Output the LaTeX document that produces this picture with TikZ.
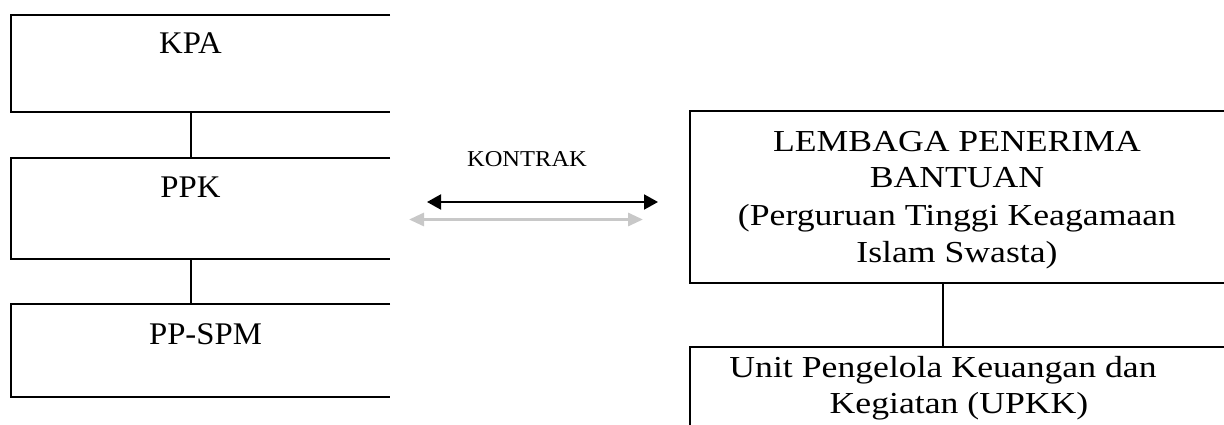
\documentclass[tikz,border=0pt]{standalone}
\usepackage{fontspec}
\setmainfont{Liberation Serif}
\newfontfamily\leftfont[FakeStretch=1.04]{Liberation Serif}
\newfontfamily\rightfont[FakeStretch=1.17]{Liberation Serif}
\newfontfamily\kfont[FakeStretch=1.08]{Liberation Serif}
\usetikzlibrary{arrows.meta}
\definecolor{arrgray}{RGB}{200,200,200}
\tikzset{
  boxarea/.style={draw=none,rectangle,inner sep=0pt,minimum width=#1},
  edge/.style={line width=2.2pt,line cap=butt},
  ltext/.style={anchor=base,inner sep=0pt,font=\leftfont\fontsize{31.5}{37}\selectfont},
  rtext/.style={anchor=base,inner sep=0pt,font=\rightfont\fontsize{30.5}{36}\selectfont},
  ktext/.style={anchor=base,inner sep=0pt,font=\kfont\fontsize{22.7}{27}\selectfont},
}
\begin{document}
\begin{tikzpicture}[x=1pt,y=-1pt]
\useasboundingbox (0,0) rectangle (1224,425);
\clip (0,0) rectangle (1224,425);
% left boxes
\node[boxarea=379pt,minimum height=97pt] (kpa) at (200.5,63.5) {};
\node[boxarea=379pt,minimum height=101pt] (ppk) at (200.5,208.5) {};
\node[boxarea=379pt,minimum height=93pt] (ppspm) at (200.5,350.5) {};
\foreach \b in {kpa,ppk,ppspm}
  \draw[edge] (\b.north east) -- (\b.north west) -- (\b.south west) -- (\b.south east);
\node[ltext] (tkpa) at (190.5,53.5) {KPA};
\node[ltext] (tppk) at (190.5,197.5) {PPK};
\node[ltext] (tppspm) at (205.5,344.5) {PP-SPM};
\draw[edge] ([xshift=180pt]kpa.south west) -- ([xshift=180pt]ppk.north west);
\draw[edge] ([xshift=180pt]ppk.south west) -- ([xshift=180pt]ppspm.north west);
% right boxes (extend beyond the picture's right edge)
\node[boxarea=700pt,minimum height=172pt] (lpb) at (1040,197) {};
\node[boxarea=700pt,minimum height=120pt] (upkk) at (1040,407) {};
\draw[edge] (lpb.north west) rectangle (lpb.south east);
\draw[edge] (upkk.north west) rectangle (upkk.south east);
\node[rtext] (l1) at (957,152) {LEMBAGA PENERIMA};
\node[rtext] (l2) at (957,188) {BANTUAN};
\node[rtext] (l3) at (957,225) {(Perguruan Tinggi Keagamaan};
\node[rtext] (l4) at (957,262) {Islam Swasta)};
\node[rtext] (u1) at (943,377) {Unit Pengelola Keuangan dan};
\node[rtext] (u2) at (959,413) {Kegiatan (UPKK)};
\draw[edge] ([xshift=253pt]lpb.south west) -- ([xshift=253pt]upkk.north west);
% contract arrows
\node[ktext] (kontrak) at (527,166.7) {KONTRAK};
\coordinate (a1) at (427,202);
\coordinate (a2) at (658,202);
\coordinate (g1) at (409,219.5);
\coordinate (g2) at (643,219.5);
\draw[line width=2pt,{Triangle[length=14pt,width=15pt]}-{Triangle[length=14pt,width=15pt]}] (a1) -- (a2);
\draw[arrgray,line width=3pt,{Triangle[length=15pt,width=13pt]}-{Triangle[length=15pt,width=13pt]}] (g1) -- (g2);
\end{tikzpicture}
\end{document}
